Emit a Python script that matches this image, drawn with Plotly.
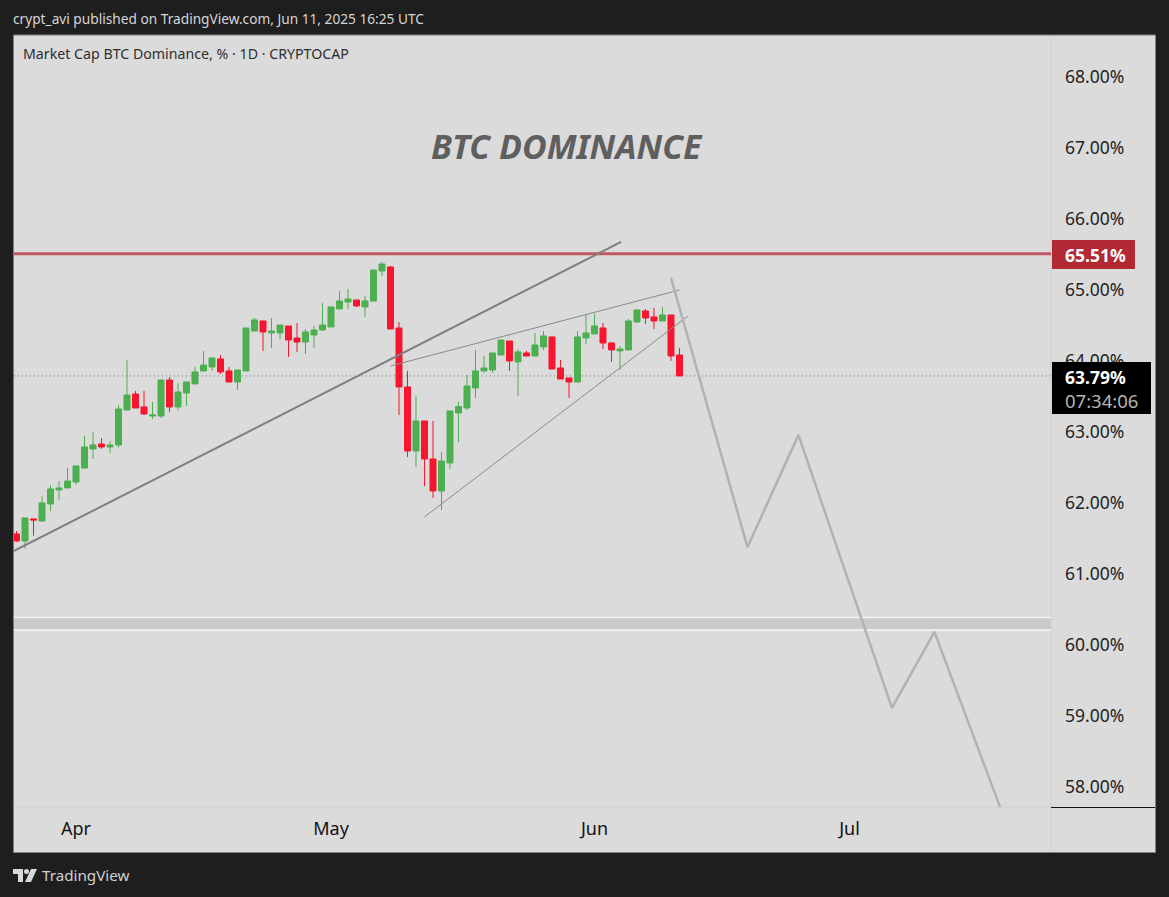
import pandas as pd
import plotly.graph_objects as go

WIDTH, HEIGHT = 1169, 897
LEFT, RIGHT, TOP, BOTTOM = 14, 1051, 36, 807  # plot pane in pixels

dates = pd.date_range("2025-03-25", "2025-06-11", freq="D")

opens = [
    61.565, 61.467, 61.777, 61.748, 61.988, 62.185, 62.213, 62.297, 62.494, 62.762,
    62.832, 62.790, 62.818, 63.311, 63.536, 63.353, 63.226, 63.226, 63.733, 63.353,
    63.550, 63.677, 63.860, 63.916, 64.029, 63.860, 63.705, 63.860, 64.423, 64.564,
    64.395, 64.395, 64.493, 64.324, 64.268, 64.367, 64.437, 64.479, 64.733, 64.831,
    64.859, 64.761, 64.845, 65.267, 65.324, 64.465, 63.635, 62.734, 63.156, 62.621,
    62.171, 62.565, 63.269, 63.339, 63.621, 63.860, 63.874, 64.085, 64.282, 63.987,
    64.113, 64.071, 64.198, 64.339, 63.902, 63.762, 63.705, 64.325, 64.381, 64.465,
    64.254, 64.142, 64.156, 64.550, 64.705, 64.620, 64.564, 64.648, 64.085,
]
highs = [
    61.608, 61.791, 61.777, 62.096, 62.255, 62.307, 62.494, 62.523, 62.945, 63.001,
    62.917, 62.874, 63.381, 64.015, 63.578, 63.578, 63.423, 63.733, 63.775, 63.691,
    63.705, 63.916, 64.141, 64.043, 64.085, 63.916, 63.874, 64.465, 64.606, 64.564,
    64.606, 64.507, 64.493, 64.535, 64.451, 64.493, 64.817, 64.761, 64.986, 65.014,
    64.859, 64.916, 65.281, 65.394, 65.338, 64.550, 63.860, 63.508, 63.156, 63.156,
    62.720, 63.297, 63.424, 63.804, 64.156, 64.071, 64.113, 64.296, 64.282, 64.170,
    64.142, 64.395, 64.423, 64.339, 64.015, 63.762, 64.423, 64.648, 64.662, 64.536,
    64.268, 64.212, 64.592, 64.719, 64.733, 64.747, 64.761, 64.648, 64.184,
]
lows = [
    61.453, 61.359, 61.542, 61.734, 61.889, 62.044, 62.213, 62.255, 62.494, 62.621,
    62.762, 62.706, 62.781, 63.311, 63.339, 63.240, 63.184, 63.198, 63.283, 63.297,
    63.367, 63.677, 63.860, 63.860, 63.818, 63.705, 63.592, 63.860, 64.423, 64.141,
    64.184, 64.310, 64.057, 64.127, 64.099, 64.184, 64.423, 64.479, 64.733, 64.733,
    64.761, 64.620, 64.845, 65.197, 64.451, 63.240, 62.649, 62.509, 62.241, 62.072,
    61.903, 62.480, 62.860, 63.311, 63.480, 63.832, 63.837, 64.085, 63.860, 63.508,
    64.071, 64.071, 64.156, 63.888, 63.747, 63.480, 63.705, 64.240, 64.381, 64.170,
    63.987, 63.874, 64.156, 64.536, 64.522, 64.451, 64.564, 64.001, 63.790,
]
closes = [
    61.467, 61.791, 61.762, 62.002, 62.199, 62.213, 62.311, 62.523, 62.790, 62.818,
    62.790, 62.818, 63.325, 63.522, 63.339, 63.255, 63.240, 63.733, 63.353, 63.564,
    63.705, 63.846, 63.944, 64.043, 63.846, 63.705, 63.874, 64.465, 64.578, 64.409,
    64.423, 64.507, 64.296, 64.268, 64.409, 64.437, 64.507, 64.761, 64.845, 64.873,
    64.775, 64.845, 65.281, 65.366, 64.451, 63.635, 62.734, 63.156, 62.621, 62.171,
    62.593, 63.297, 63.358, 63.649, 63.860, 63.902, 64.113, 64.296, 64.001, 64.128,
    64.071, 64.226, 64.353, 63.888, 63.747, 63.705, 64.339, 64.395, 64.494, 64.254,
    64.156, 64.170, 64.564, 64.719, 64.606, 64.564, 64.648, 64.071, 63.790,
]

resistance = 65.51
last_price = 63.79
zone_top, zone_bottom = 60.39, 60.214

trend_x = ["2025-03-20", "2025-06-04 03:00"]
trend_y = [61.04, 65.676]
wedge_up_x = ["2025-05-08", "2025-06-11"]
wedge_up_y = [63.93, 65.00]
wedge_low_x = ["2025-05-12", "2025-06-12"]
wedge_low_y = [61.805, 64.634]
path_x = ["2025-06-10", "2025-06-19", "2025-06-25", "2025-07-06", "2025-07-11", "2025-07-20"]
path_y = [65.17, 61.38, 62.96, 59.116, 60.186, 57.31]

y_ticks = [58, 59, 60, 61, 62, 63, 64, 65, 66, 67, 68]
month_ticks = ["2025-04-01", "2025-05-01", "2025-06-01", "2025-07-01"]
month_labels = ["Apr", "May", "Jun", "Jul"]

FONT = "Noto Sans"
PANE = "#dbdbdb"


def px(x):
    return (x - LEFT) / (RIGHT - LEFT)


def py(y):
    return 1 - (y - TOP) / (BOTTOM - TOP)


def box(x0, y0, x1, y1, fill=None, line=None, width=1, layer="below"):
    return dict(
        type="rect", xref="paper", yref="paper", layer=layer,
        x0=px(x0), x1=px(x1), y0=py(y0), y1=py(y1),
        fillcolor=fill, line=dict(color=line, width=width if line else 0),
    )


def seg(x0, y0, x1, y1, color, width=1, layer="below"):
    return dict(
        type="line", xref="paper", yref="paper", layer=layer,
        x0=px(x0), x1=px(x1), y0=py(y0), y1=py(y1),
        line=dict(color=color, width=width),
    )


def label(x, y, text, size, color, anchor="left", **kw):
    return dict(
        xref="paper", yref="paper", x=px(x), y=py(y), text=text, showarrow=False,
        xanchor=anchor, yanchor="middle", font=dict(family=FONT, size=size, color=color), **kw,
    )


fig = go.Figure()
fig.add_trace(
    go.Candlestick(
        x=dates, open=opens, high=highs, low=lows, close=closes,
        increasing=dict(line=dict(color="#4caf50", width=1), fillcolor="#4caf50"),
        decreasing=dict(line=dict(color="#f7152f", width=1), fillcolor="#f7152f"),
        whiskerwidth=0,
    )
)
for xs, ys, color, w in [
    (trend_x, trend_y, "#7f7f7f", 2),
    (wedge_up_x, wedge_up_y, "#8a8a8a", 1),
    (wedge_low_x, wedge_low_y, "#8a8a8a", 1),
    (path_x, path_y, "#b2b2b2", 2.5),
]:
    fig.add_trace(go.Scatter(x=xs, y=ys, mode="lines", line=dict(color=color, width=w)))

shapes = [
    box(13.5, 35, 1155.5, 852.5, fill=PANE, line="#808080"),
    seg(RIGHT, TOP, RIGHT, 852, "#d0d0d0"),
    seg(LEFT, BOTTOM, RIGHT, BOTTOM, "#d2d2d2"),
    seg(RIGHT, 807.5, 1155, 807.5, "#111111", layer="above"),
    # white-edged support zone
    dict(type="rect", xref="paper", yref="y", layer="below", x0=0, x1=1, y0=zone_bottom, y1=zone_top,
         fillcolor="#cacaca", line=dict(width=0)),
    dict(type="line", xref="paper", yref="y", layer="below", x0=0, x1=1, y0=zone_top, y1=zone_top,
         line=dict(color="#f4f4f4", width=1.5)),
    dict(type="line", xref="paper", yref="y", layer="below", x0=0, x1=1, y0=zone_bottom, y1=zone_bottom,
         line=dict(color="#f4f4f4", width=1.5)),
    dict(type="line", xref="paper", yref="y", layer="below", x0=0, x1=1, y0=last_price, y1=last_price,
         line=dict(color="#707070", width=1, dash="1px,3px")),
    dict(type="line", xref="paper", yref="y", layer="below", x0=0, x1=1, y0=resistance, y1=resistance,
         line=dict(color="#c2575f", width=3)),
    # price tags on the axis
    box(1052, 240, 1135, 269, fill="#b22833", layer="above"),
    box(1052, 362, 1151, 414, fill="#000000", layer="above"),
    # TradingView logo
    dict(type="path", xref="paper", yref="paper", layer="above", fillcolor="#d8d8d8", line=dict(width=0),
         path=f"M{px(13)},{py(869)} L{px(23)},{py(869)} L{px(23)},{py(882)} L{px(18)},{py(882)} "
              f"L{px(18)},{py(874)} L{px(13)},{py(874)} Z"),
    dict(type="circle", xref="paper", yref="paper", layer="above", fillcolor="#d8d8d8", line=dict(width=0),
         x0=px(24), x1=px(29), y0=py(869), y1=py(874)),
    dict(type="path", xref="paper", yref="paper", layer="above", fillcolor="#d8d8d8", line=dict(width=0),
         path=f"M{px(31)},{py(869)} L{px(37)},{py(869)} L{px(31)},{py(882)} L{px(25)},{py(882)} Z"),
]

annotations = [
    label(11, 18.5, "crypt_avi published on TradingView.com, Jun 11, 2025 16:25 UTC", 13.7, "#d6d6d6"),
    label(21, 53.5, "Market Cap BTC Dominance, % · 1D · CRYPTOCAP", 14.2, "#2e2e2e"),
    label(566.5, 146, "<b><i>BTC DOMINANCE</i></b>", 33.9, "#5f5f5f", anchor="center"),
    label(40, 875.5, "TradingView", 15.2, "#d0d0d0"),
    label(1063, 254.5, "<b>65.51%</b>", 17.5, "#ffffff"),
    label(1063, 376.5, "<b>63.79%</b>", 17.5, "#ffffff"),
    label(1063, 400, "07:34:06", 18.5, "#b4b4b4"),
]

fig.update_layout(
    width=WIDTH,
    height=HEIGHT,
    margin=dict(l=LEFT, r=WIDTH - RIGHT, t=TOP, b=HEIGHT - BOTTOM, pad=0),
    paper_bgcolor="#1e1e1e",
    plot_bgcolor=PANE,
    showlegend=False,
    boxgap=0.25,
    boxgroupgap=0.06,
    shapes=shapes,
    annotations=annotations,
    xaxis=dict(
        type="date",
        range=["2025-03-24 16:56", "2025-07-24 17:00"],
        rangeslider=dict(visible=False),
        tickvals=month_ticks,
        ticktext=month_labels,
        showgrid=False,
        zeroline=False,
        ticks="",
        ticklabelstandoff=9,
        tickfont=dict(family=FONT, size=18, color="#131313"),
        automargin=False,
    ),
    yaxis=dict(
        side="right",
        range=[57.722, 68.575],
        tickvals=y_ticks,
        ticktext=[f"{t:.2f}%" for t in y_ticks],
        showgrid=False,
        zeroline=False,
        ticks="",
        ticklabelstandoff=13,
        tickfont=dict(family=FONT, size=17.5, color="#222222"),
        automargin=False,
    ),
)

fig.write_html("out.html", config={"displayModeBar": False},
               post_script="document.body.style.margin='0';")
